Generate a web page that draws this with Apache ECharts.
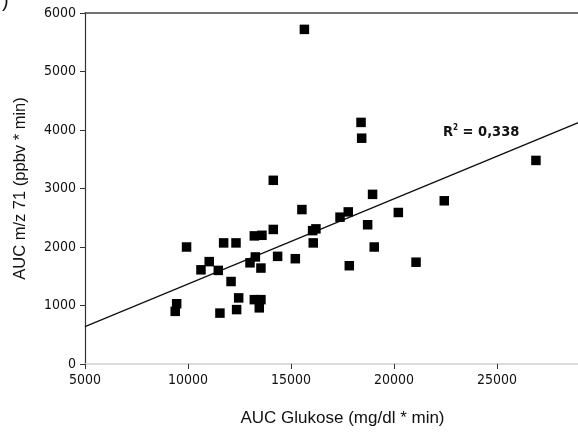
<!DOCTYPE html>
<html>
	<head>
		<meta charset="UTF-8">
		<title></title>
		<style>body{margin:0;} #charts{width:578px;height:432px;}</style>
	</head>
	<body>
		<div id="charts"></div>
	</body>
	<script src="https://cdn.jsdelivr.net/npm/echarts@6/dist/echarts.min.js"></script>
	<script>
		var mycharts = echarts.init(document.getElementById('charts'))
		// AUC Glukose (x) / AUC m/z 71 (y)
		var glukose = [9930, 9450, 9380, 10630, 11030, 11470, 11730, 12330, 12090, 12460,
			11550, 12360, 13010, 13270, 13220, 13590, 13540, 14140, 14350, 13220,
			13540, 13460, 15210, 15530, 16050, 16210, 16080, 17380, 17780, 18960,
			18720, 19040, 17830, 20210, 21070, 15650, 18400, 18430, 26890, 22440, 14140];
		var mz71 = [2000, 1030, 900, 1610, 1750, 1600, 2070, 2070, 1410, 1130,
			870, 930, 1730, 1830, 2190, 2200, 1640, 2300, 1840, 1100,
			1100, 960, 1800, 2640, 2280, 2310, 2070, 2510, 2600, 2900,
			2380, 2000, 1680, 2590, 1740, 5720, 4130, 3860, 3480, 2790, 3140];
		// Regressionsgerade (Endpunkte)
		var fitX = [5000, 30000];
		var fitY = [640, 4280];
		var r2Text = '0,338';
		var yTicks = [0, 1000, 2000, 3000, 4000, 5000, 6000];

		var points = glukose.map(function (x, i) { return [x, mz71[i]]; });
		var fit = fitX.map(function (x, i) { return [x, fitY[i]]; });

		var tickFont = 'DejaVu Sans Condensed, Liberation Sans, sans-serif';
		var plain = function (v) { return String(v); };
		option = {
			backgroundColor: '#fff',
			animation: false,
			grid: {left: 85, top: 13, width: 515, height: 351, outerBoundsMode: 'none', containLabel: false},
			xAxis: [{
				type: 'value',
				min: 5000, max: 30000, interval: 5000,
				name: 'AUC Glukose (mg/dl * min)',
				nameLocation: 'middle',
				nameGap: 46,
				nameTextStyle: {fontFamily: 'Liberation Sans', fontSize: 17, color: '#111'},
				axisLine: {lineStyle: {color: '#cfcfcf', width: 1.5}},
				axisTick: {show: true, length: 5, lineStyle: {color: '#333'}},
				axisLabel: {fontFamily: tickFont, fontSize: 14, color: '#111', margin: 9, formatter: plain},
				splitLine: {show: false}
			}, {
				type: 'value', position: 'top', min: 5000, max: 30000,
				axisLine: {show: true, lineStyle: {color: '#444', width: 1.5}},
				axisTick: {show: false}, axisLabel: {show: false}, splitLine: {show: false}
			}],
			yAxis: {
				type: 'value',
				min: yTicks[0], max: yTicks[yTicks.length - 1], interval: 1000,
				name: 'AUC m/z 71 (ppbv * min)',
				nameLocation: 'middle',
				nameGap: 56,
				nameTextStyle: {fontFamily: 'Liberation Sans', fontSize: 16.5, color: '#111'},
				axisLine: {show: true, lineStyle: {color: '#333', width: 1.2}},
				axisTick: {show: true, length: 5, lineStyle: {color: '#333'}},
				axisLabel: {fontFamily: tickFont, fontSize: 14, color: '#111', margin: 9, formatter: plain},
				splitLine: {show: false}
			},
			graphic: [{
				type: 'text', left: 2, top: -9,
				style: {text: ')', fontSize: 20, fontFamily: 'Liberation Sans', fill: '#111'}
			}, {
				type: 'text', left: 443, top: 124,
				style: {
					text: '{r|R}{s|2}{r| = ' + r2Text + '}',
					rich: {
						r: {fontFamily: 'DejaVu Sans Condensed, Liberation Sans', fontWeight: 'bold', fontSize: 14.5, fill: '#111'},
						s: {fontFamily: 'DejaVu Sans Condensed, Liberation Sans', fontWeight: 'bold', fontSize: 8, fill: '#111', verticalAlign: 'top', padding: [0, 0, 8, 0]}
					}
				}
			}],
			series: [{
				type: 'line',
				data: fit,
				symbol: 'none',
				lineStyle: {color: '#111', width: 1.3},
				z: 1
			}, {
				type: 'scatter',
				data: points,
				symbol: 'rect',
				symbolSize: 9.5,
				itemStyle: {color: '#000', opacity: 1},
				z: 2
			}]
		}
		mycharts.setOption(option);
	</script>
</html>
